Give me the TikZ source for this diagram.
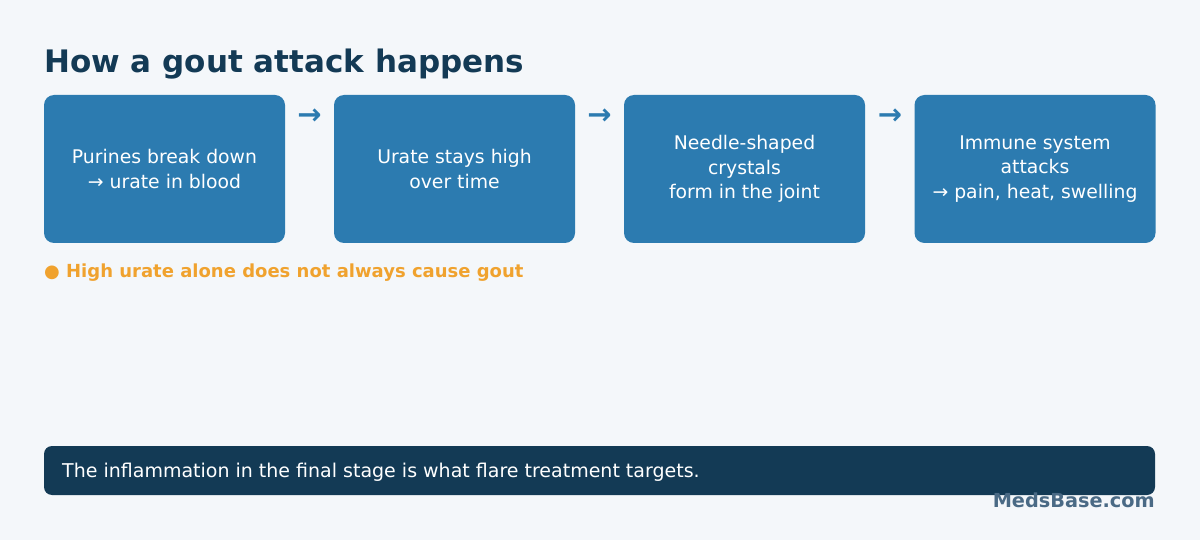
\documentclass[tikz,border=0pt]{standalone}
\usepackage{fontspec}
\setmainfont{DejaVu Sans}
\usepackage{xcolor}
\usetikzlibrary{positioning}

\definecolor{bgcol}{HTML}{F4F7FA}
\definecolor{stepblue}{HTML}{2C7BB0}
\definecolor{navy}{HTML}{133A55}
\definecolor{notecol}{HTML}{F0A22E}
\definecolor{brandcol}{HTML}{4A6A85}

\tikzset{
    stage/.style={fill=stepblue, rounded corners=10pt, minimum width=241pt,
        minimum height=148pt, inner sep=0pt, text=white, align=center,
        font=\fontsize{18.8}{24.5}\selectfont},
    nextarrow/.style={text=stepblue, inner sep=0pt, font=\fontsize{29}{29}\selectfont\bfseries}
}

\begin{document}
\begin{tikzpicture}[x=1pt, y=-1pt]
    \fill[bgcol] (0,0) rectangle (1200,540);
    \useasboundingbox (0,0) rectangle (1200,540);

    % title
    \node[anchor=base west, inner sep=0pt, text=navy, font=\fontsize{31}{31}\selectfont\bfseries] (title) at (44,73) {How a gout attack happens};

    % the four stages
    \node[stage] (s1) at (164.5,169) {Purines break down\\→ urate in blood};
    \node[stage] (s2) at (454.5,169) {Urate stays high\\over time};
    \node[stage] (s3) at (744.5,169) {Needle-shaped\\crystals\\form in the joint};
    \node[stage] (s4) at (1035,169) {Immune system\\attacks\\→ pain, heat, swelling};

    \node[nextarrow] (a1) at (309.5,117) {→};
    \node[nextarrow] (a2) at (599.5,117) {→};
    \node[nextarrow] (a3) at (890,117) {→};

    % note
    \node[anchor=base west, inner sep=0pt, text=notecol, font=\fontsize{18}{18}\selectfont\bfseries] (note) at (44,277) {● High urate alone does not always cause gout};

    % bottom bar
    \node[fill=navy, rounded corners=8pt, minimum width=1111pt, minimum height=49pt, inner sep=0pt] (bar) at (599.5,470.5) {};
    \node[anchor=base west, inner sep=0pt, text=white, font=\fontsize{19}{19}\selectfont] (bartext) at (62,477) {The inflammation in the final stage is what flare treatment targets.};

    \node[anchor=base east, inner sep=0pt, text=brandcol, font=\fontsize{19.3}{19.3}\selectfont\bfseries] (brand) at (1155,507.5) {MedsBase.com};
\end{tikzpicture}
\end{document}
